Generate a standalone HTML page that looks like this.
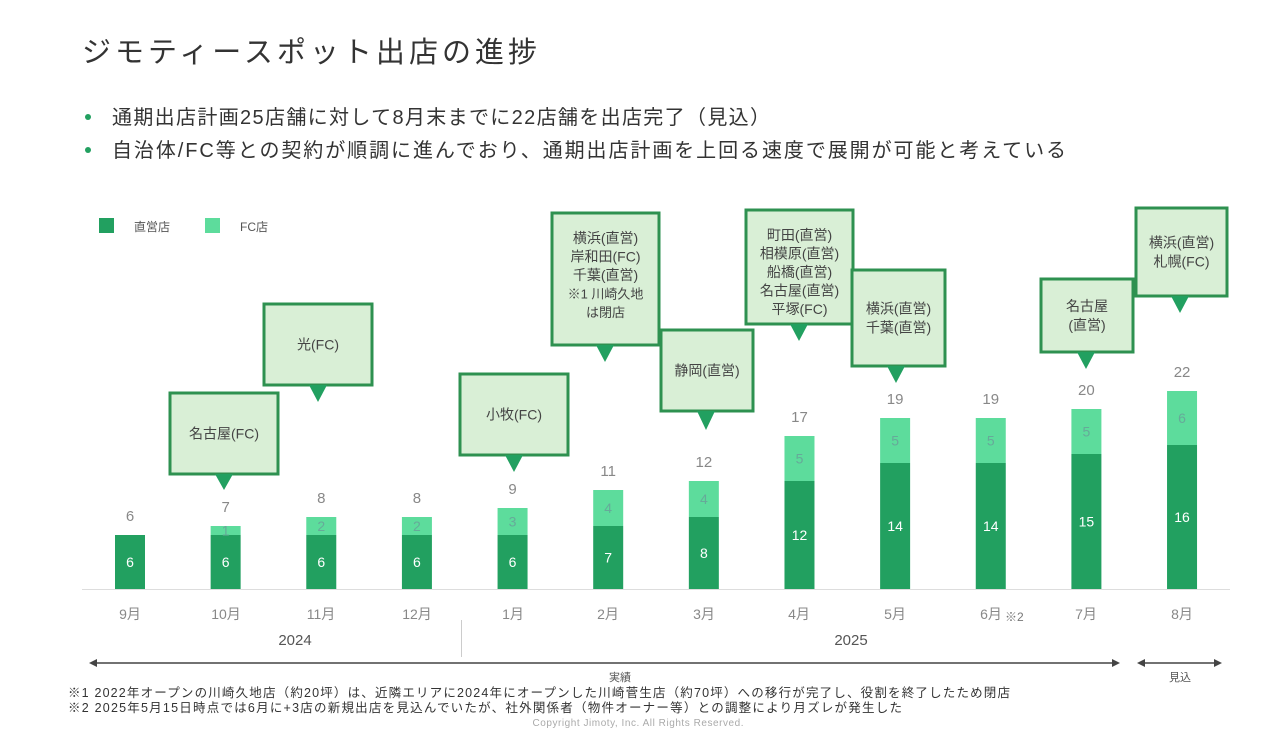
<!DOCTYPE html>
<html><head><meta charset="utf-8"><style>
body{margin:0;background:#fff;width:1280px;height:732px;overflow:hidden;font-family:"Liberation Sans","Noto Sans CJK JP",sans-serif}
</style></head><body>
<svg width="1280" height="732" xmlns="http://www.w3.org/2000/svg" font-family="Liberation Sans, Noto Sans CJK JP, sans-serif">
<text x="82" y="62" font-size="29" fill="#333" textLength="455" lengthAdjust="spacing">ジモティースポット出店の進捗</text>
<circle cx="88" cy="117" r="3" fill="#22a060"/>
<text x="112" y="124" font-size="20" fill="#333" textLength="658" lengthAdjust="spacing">通期出店計画25店舗に対して8月末までに22店舗を出店完了（見込）</text>
<circle cx="88" cy="150" r="3" fill="#22a060"/>
<text x="112" y="157" font-size="20" fill="#333" textLength="954" lengthAdjust="spacing">自治体/FC等との契約が順調に進んでおり、通期出店計画を上回る速度で展開が可能と考えている</text>
<rect x="99" y="218" width="15" height="15" fill="#22a060"/>
<text x="134" y="231" font-size="12" fill="#555">直営店</text>
<rect x="205" y="218" width="15" height="15" fill="#5ddc9c"/>
<text x="240" y="231" font-size="12" fill="#555">FC店</text>
<line x1="82" y1="589.5" x2="1230" y2="589.5" stroke="#ddd"/>
<g id="bars" font-size="14" text-anchor="middle"></g>
<g font-size="14" fill="#888" text-anchor="middle">
<text x="130" y="619">9月</text><text x="226" y="619">10月</text><text x="321" y="619">11月</text><text x="417" y="619">12月</text><text x="513" y="619">1月</text><text x="608" y="619">2月</text><text x="704" y="619">3月</text><text x="799" y="619">4月</text><text x="895" y="619">5月</text><text x="991" y="619">6月</text><text x="1086" y="619">7月</text><text x="1182" y="619">8月</text>
</g>
<text x="1005" y="621" font-size="12" fill="#777">※2</text>
<line x1="461.5" y1="620" x2="461.5" y2="657" stroke="#ccc"/>
<text x="295" y="645" font-size="15" fill="#555" text-anchor="middle">2024</text>
<text x="851" y="645" font-size="15" fill="#555" text-anchor="middle">2025</text>
<line x1="95" y1="663" x2="1114" y2="663" stroke="#444" stroke-width="1.5"/>
<polygon points="89,663 97,659 97,667" fill="#444"/><polygon points="1120,663 1112,659 1112,667" fill="#444"/>
<line x1="1143" y1="663" x2="1216" y2="663" stroke="#444" stroke-width="1.5"/>
<polygon points="1137,663 1145,659 1145,667" fill="#444"/><polygon points="1222,663 1214,659 1214,667" fill="#444"/>
<text x="620" y="681" font-size="11" fill="#555" text-anchor="middle">実績</text>
<text x="1180" y="681" font-size="11" fill="#555" text-anchor="middle">見込</text>
<text x="68" y="697" font-size="12.5" fill="#333" textLength="942" lengthAdjust="spacing">※1 2022年オープンの川崎久地店（約20坪）は、近隣エリアに2024年にオープンした川崎菅生店（約70坪）への移行が完了し、役割を終了したため閉店</text>
<text x="68" y="712" font-size="12.5" fill="#333" textLength="834" lengthAdjust="spacing">※2 2025年5月15日時点では6月に+3店の新規出店を見込んでいたが、社外関係者（物件オーナー等）との調整により月ズレが発生した</text>
<text x="638" y="726" font-size="10" fill="#aaa" text-anchor="middle" textLength="211" lengthAdjust="spacing">Copyright Jimoty, Inc. All Rights Reserved.</text>
<g id="callouts" font-size="14" fill="#444" text-anchor="middle"></g>
</svg>
<script>
var d=[[6,0],[6,1],[6,2],[6,2],[6,3],[7,4],[8,4],[12,5],[14,5],[14,5],[15,5],[16,6]];
var g=document.getElementById('bars'),h='';
d.forEach(function(v,i){var cx=130+i*95.64,b=589,u=9,a=v[0]*u,f=v[1]*u;
h+='<rect x="'+(cx-15)+'" y="'+(b-a)+'" width="30" height="'+a+'" fill="#22a060"/>';
if(f)h+='<rect x="'+(cx-15)+'" y="'+(b-a-f)+'" width="30" height="'+f+'" fill="#5ddc9c"/>';
h+='<text x="'+cx+'" y="'+(b-a/2+5)+'" fill="#fff">'+v[0]+'</text>';
if(f)h+='<text x="'+cx+'" y="'+(b-a-f/2+5)+'" fill="#6a9">'+v[1]+'</text>';
h+='<text x="'+cx+'" y="'+(b-a-f-14)+'" fill="#888" font-size="15">'+(v[0]+v[1])+'</text>';});
g.innerHTML=h;
var c=[[170,393,278,474,224,490,['名古屋(FC)']],[264,304,372,385,318,402,['光(FC)']],[460,374,568,455,514,472,['小牧(FC)']],
[552,213,659,345,605,362,['横浜(直営)','岸和田(FC)','千葉(直営)','※1 川崎久地','は閉店']],[661,330,753,411,706,430,['静岡(直営)']],
[746,210,853,324,799,341,['町田(直営)','相模原(直営)','船橋(直営)','名古屋(直営)','平塚(FC)']],[852,270,945,366,896,383,['横浜(直営)','千葉(直営)']],
[1041,279,1133,352,1086,369,['名古屋','(直営)']],[1136,208,1227,296,1180,313,['横浜(直営)','札幌(FC)']]];
var s='';
c.forEach(function(q){var x1=q[0],y1=q[1],x2=q[2],y2=q[3],tx=q[4],ty=q[5],L=q[6];
s+='<rect x="'+x1+'" y="'+y1+'" width="'+(x2-x1)+'" height="'+(y2-y1)+'" fill="#d9efd6" stroke="#2e9150" stroke-width="3"/>';
s+='<polygon points="'+(tx-9)+','+y2+' '+(tx+9)+','+y2+' '+tx+','+ty+'" fill="#22a060"/>';
var lh=L.length>3?18.5:19,n=L.length,cy=(y1+y2)/2,sy=cy-(n-1)*lh/2+5;
if(n>3)sy=y1+30;
L.forEach(function(t,j){s+='<text x="'+((x1+x2)/2)+'" y="'+(sy+j*lh)+'"'+(t.indexOf('※')==0||t=='は閉店'?' font-size="13"':'')+'>'+t+'</text>';});});
document.getElementById('callouts').innerHTML=s;
</script>
</body></html>
